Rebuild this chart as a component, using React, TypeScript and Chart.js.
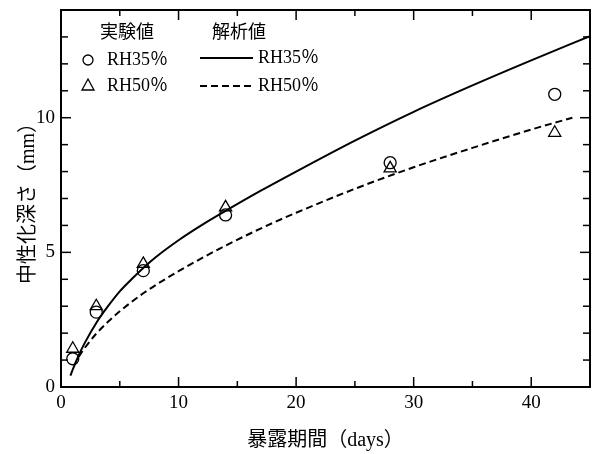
import React, { useEffect, useRef } from "react";
import { Chart, registerables } from "chart.js";

Chart.register(...registerables);

// measured data (実験値)
const expDays = [1, 3, 7, 14, 28, 42];
const rh35Measured = [1.05, 2.78, 4.32, 6.39, 8.33, 10.87];
const rh50Measured = [1.42, 3.0, 4.57, 6.67, 8.12, 9.44];

// analysis curves (解析値)
const rh35CurveDays = [0.8, 1, 1.5, 2, 3, 4, 5, 6, 7, 8, 10, 12, 14, 17, 20, 25, 30, 35, 40, 45];
const rh35CurveValues = [0.42, 0.65, 1.17, 1.62, 2.38, 3.0, 3.55, 4.0, 4.42, 4.8, 5.45, 6.02, 6.54, 7.29, 8.0, 9.15, 10.22, 11.2, 12.13, 13.03];
const rh50CurveDays = [1.5, 2, 3, 4, 5, 7, 10, 14, 18, 20, 25, 30, 35, 40, 43.5];
const rh50CurveValues = [1.12, 1.44, 1.98, 2.42, 2.81, 3.48, 4.3, 5.25, 6.09, 6.47, 7.36, 8.16, 8.88, 9.56, 10.0];

const xTickValues = [0, 10, 20, 30, 40];
const yTickValues = [0, 5, 10];
const legendHeaders = ["実験値", "解析値"];
const seriesLabels = ["RH35％", "RH50％"];
const xTitle = "暴露期間（days）";
const yTitle = "中性化深さ（mm）";

const FONT = "'Liberation Serif', 'Noto Sans CJK JP', serif";

const toPoints = (xs: number[], ys: number[]) => xs.map((x, i) => ({ x, y: ys[i] }));

const framePlugin = {
  id: "frameTicks",
  afterDraw(chart: any) {
    const { ctx, chartArea: a, scales } = chart;
    const xs = scales.x;
    const ys = scales.y;
    ctx.save();
    ctx.strokeStyle = "#000";
    ctx.lineWidth = 1.5;
    const seg = (x1: number, y1: number, x2: number, y2: number) => {
      ctx.beginPath();
      ctx.moveTo(x1, y1);
      ctx.lineTo(x2, y2);
      ctx.stroke();
    };
    for (let v = 5; v < 45; v += 5) {
      const px = xs.getPixelForValue(v);
      const len = v % 10 === 0 ? 10 : 6;
      seg(px, a.bottom, px, a.bottom - len);
      seg(px, a.top, px, a.top + len);
    }
    for (let v = 1; v < 14; v += 1) {
      const py = ys.getPixelForValue(v);
      const len = v % 5 === 0 ? 10 : 7;
      seg(a.left, py, a.left + len, py);
      seg(a.right, py, a.right - len, py);
    }
    ctx.lineWidth = 2;
    ctx.strokeRect(a.left, a.top, a.right - a.left, a.bottom - a.top);
    ctx.restore();
  },
};

const legendPlugin = {
  id: "customLegend",
  afterDraw(chart: any) {
    const ctx = chart.ctx;
    ctx.save();
    ctx.fillStyle = "#000";
    ctx.strokeStyle = "#000";
    ctx.font = `18px ${FONT}`;
    ctx.textBaseline = "middle";
    ctx.textAlign = "left";
    ctx.fillText(legendHeaders[0], 100, 33);
    ctx.fillText(legendHeaders[1], 212, 33);
    ctx.fillText(seriesLabels[0], 107, 60);
    ctx.fillText(seriesLabels[1], 107, 86);
    ctx.fillText(seriesLabels[0], 258, 58);
    ctx.fillText(seriesLabels[1], 258, 86);
    // markers
    ctx.lineWidth = 1.3;
    ctx.beginPath();
    ctx.arc(88, 60, 5, 0, Math.PI * 2);
    ctx.stroke();
    ctx.beginPath();
    ctx.moveTo(88, 79);
    ctx.lineTo(94, 90);
    ctx.lineTo(82, 90);
    ctx.closePath();
    ctx.stroke();
    // lines
    ctx.lineWidth = 2;
    ctx.beginPath();
    ctx.moveTo(200, 58);
    ctx.lineTo(253, 58);
    ctx.stroke();
    ctx.setLineDash([7, 4]);
    ctx.beginPath();
    ctx.moveTo(200, 86);
    ctx.lineTo(253, 86);
    ctx.stroke();
    ctx.restore();
  },
};

const zeroPad = (s: any) => {
  s.paddingTop = 0;
  s.paddingBottom = 0;
  s.paddingLeft = 0;
  s.paddingRight = 0;
};

export default function App() {
  const ref = useRef<HTMLCanvasElement | null>(null);
  useEffect(() => {
    if (!ref.current) return;
    const chart = new Chart(ref.current, {
      type: "scatter",
      data: {
        datasets: [
          {
            label: "解析値 RH35％",
            data: toPoints(rh35CurveDays, rh35CurveValues),
            showLine: true,
            borderColor: "#000",
            borderWidth: 2,
            pointRadius: 0,
            cubicInterpolationMode: "monotone",
            fill: false,
          },
          {
            label: "解析値 RH50％",
            data: toPoints(rh50CurveDays, rh50CurveValues),
            showLine: true,
            borderColor: "#000",
            borderWidth: 2,
            borderDash: [7, 4],
            pointRadius: 0,
            cubicInterpolationMode: "monotone",
            fill: false,
          },
          {
            label: "実験値 RH35％",
            data: toPoints(expDays, rh35Measured),
            showLine: false,
            pointStyle: "circle",
            pointRadius: 6,
            borderColor: "#000",
            backgroundColor: "rgba(0,0,0,0)",
            borderWidth: 1.3,
          },
          {
            label: "実験値 RH50％",
            data: toPoints(expDays, rh50Measured),
            showLine: false,
            pointStyle: "triangle",
            pointRadius: 7,
            borderColor: "#000",
            backgroundColor: "rgba(0,0,0,0)",
            borderWidth: 1.3,
          },
        ],
      },
      options: {
        responsive: false,
        animation: false,
        events: [],
        layout: { autoPadding: false, padding: { top: 10, right: 5, left: 0, bottom: 0 } },
        plugins: { legend: { display: false }, tooltip: { enabled: false } },
        scales: {
          x: {
            type: "linear",
            min: 0,
            max: 45,
            grid: { display: false, drawTicks: false },
            border: { display: false },
            afterBuildTicks: (s: any) => {
              s.ticks = xTickValues.map((v) => ({ value: v }));
            },
            afterFit: (s: any) => {
              s.height = 67;
              zeroPad(s);
            },
            ticks: {
              color: "#000",
              font: { family: FONT, size: 19 },
              padding: 5,
              maxRotation: 0,
              autoSkip: false,
            },
            title: {
              display: true,
              text: xTitle,
              color: "#000",
              font: { family: FONT, size: 20 },
              padding: { top: 0, bottom: 1 },
            },
          },
          y: {
            type: "linear",
            min: 0,
            max: 14,
            grid: { display: false, drawTicks: false },
            border: { display: false },
            afterBuildTicks: (s: any) => {
              s.ticks = yTickValues.map((v) => ({ value: v }));
            },
            afterFit: (s: any) => {
              s.width = 61;
              zeroPad(s);
            },
            ticks: {
              color: "#000",
              font: { family: FONT, size: 19 },
              padding: 6,
              autoSkip: false,
            },
            title: {
              display: true,
              text: yTitle,
              color: "#000",
              font: { family: FONT, size: 20 },
              padding: { top: 17, bottom: 0 },
            },
          },
        },
      },
      plugins: [framePlugin, legendPlugin],
    } as any);
    return () => chart.destroy();
  }, []);
  return (
    <div style={{ position: "fixed", left: 0, top: 0, width: 595, height: 454, background: "#fff" }}>
      <canvas ref={ref} width={595} height={454} style={{ display: "block" }} />
    </div>
  );
}
